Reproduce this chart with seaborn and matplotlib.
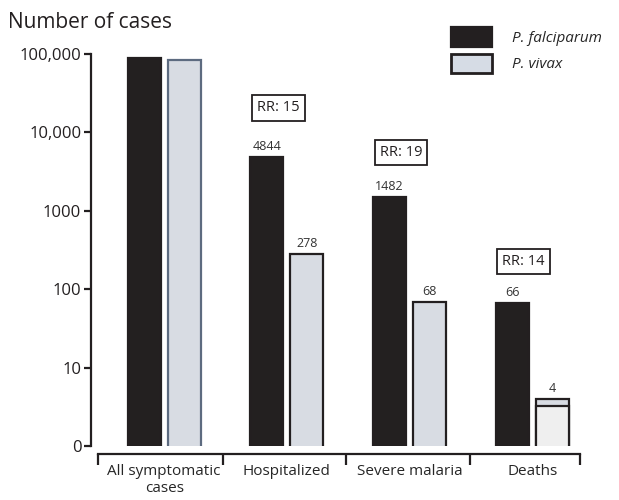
import matplotlib
matplotlib.use("Agg")
import matplotlib.pyplot as plt
from matplotlib.patches import Patch
import seaborn as sns
import pandas as pd

sns.set_theme(style="white")
plt.rcParams['font.family'] = ['Open Sans', 'DejaVu Sans']

# data
categories = ["All symptomatic\ncases", "Hospitalized", "Severe malaria", "Deaths"]
species = ["P. falciparum", "P. vivax"]
falciparum = [88000, 4844, 1482, 66]
vivax = [84000, 278, 68, 4]
falc_labels = ["", "4844", "1482", "66"]
vivax_labels = ["", "278", "68", "4"]
deaths_vivax_lower = 3.2   # lighter lower part of the vivax deaths bar
rr_labels = ["RR: 15", "RR: 19", "RR: 14"]
rr_height = [20500, 5500, 225]
yticks = [1, 10, 100, 1000, 10000, 100000]
ytick_labels = ["0", "10", "100", "1000", "10,000", "100,000"]

dark = "#231f20"
blue = "#d6dce5"
light = "#efefef"

df = pd.DataFrame({
    "category": categories * 2,
    "species": [species[0]] * 4 + [species[1]] * 4,
    "cases": falciparum + vivax,
})

fig = plt.figure(figsize=(6.19, 5.0), dpi=100)
ax = fig.add_axes([91 / 619, 0.108, 499 / 619, 0.784])
ax.set_yscale("log")

sns.barplot(data=df, x="category", y="cases", hue="species", order=categories,
            hue_order=species, palette={species[0]: dark, species[1]: blue},
            width=0.652, gap=0.17, legend=False, ax=ax, linewidth=1.6,
            edgecolor=dark)

# lighter lower part of the vivax deaths bar
low = pd.DataFrame({"category": [categories[3]], "species": [species[1]],
                    "cases": [deaths_vivax_lower]})
sns.barplot(data=low, x="category", y="cases", hue="species", order=categories,
            hue_order=species, palette={species[0]: dark, species[1]: light},
            width=0.652, gap=0.17, dodge=True, legend=False, ax=ax,
            linewidth=1.6, edgecolor=dark)

# vivax all cases bar has a blue-grey border
ax.containers[1][0].set_edgecolor("#5d6b80")

ax.bar_label(ax.containers[0], labels=falc_labels, padding=3, fontsize=9, color="#333333")
ax.bar_label(ax.containers[1], labels=vivax_labels, padding=3, fontsize=9, color="#333333")

for i, (t, h) in enumerate(zip(rr_labels, rr_height)):
    ax.text(i + 1 - 0.07, h, t, ha="center", va="center", fontsize=10.5, color=dark,
            bbox=dict(boxstyle="square,pad=0.35", fc="white", ec=dark, lw=1.3))

ax.set_ylim(1, 100000)
ax.set_xlim(-0.596, 3.47)
ax.set_yticks(yticks)
ax.set_yticklabels(ytick_labels, fontsize=12, color=dark)
ax.yaxis.set_minor_locator(matplotlib.ticker.NullLocator())
ax.tick_params(axis="y", direction="out", length=5, width=1.6, color=dark, left=True, pad=2)

ax.set_xticks(range(4))
ax.set_xticklabels(categories, fontsize=9, color=dark, linespacing=1.25)
ax.set_xticks([-0.539, 0.48, 1.484, 2.495, 3.392], minor=True)
ax.tick_params(axis="x", which="major", length=0, pad=7)
ax.tick_params(axis="x", which="minor", direction="out", length=8, width=1.6,
               color=dark, bottom=True)

for s in ["top", "right"]:
    ax.spines[s].set_visible(False)
ax.spines["left"].set_color(dark)
ax.spines["left"].set_linewidth(1.6)
ax.spines["bottom"].set_color(dark)
ax.spines["bottom"].set_linewidth(1.6)
ax.spines["bottom"].set_position(("outward", 6))
ax.spines["bottom"].set_bounds(-0.539, 3.392)
ax.set_xlabel("")
ax.set_ylabel("")

fig.text(8 / 619, 1 - 22 / 500, "Number of cases", fontsize=15, color=dark,
         ha="left", va="center")

handles = [Patch(facecolor=dark, edgecolor=dark, lw=1.6),
           Patch(facecolor=blue, edgecolor=dark, lw=2)]
fig.legend(handles, species, loc="upper left", bbox_to_anchor=(451 / 619, 1 - 27 / 500),
           frameon=False, borderpad=0, borderaxespad=0, handlelength=2.7,
           handleheight=1.6, labelspacing=0.45, handletextpad=1.3,
           prop={"style": "italic", "size": 11})

fig.savefig("out.png", dpi=100)
